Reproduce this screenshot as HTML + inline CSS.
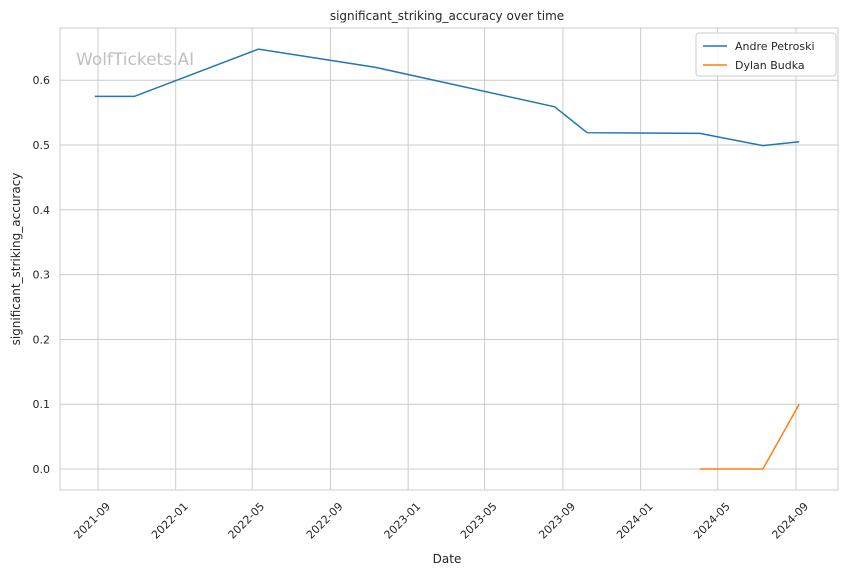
<!DOCTYPE html>
<html><head><meta charset="utf-8"><style>
body{margin:0;background:#fff;font-family:"Liberation Sans","DejaVu Sans",sans-serif;}
svg text{font-family:"DejaVu Sans","Liberation Sans",sans-serif;fill:#262626;}
</style></head><body>
<svg id="chart" width="844" height="575" xmlns="http://www.w3.org/2000/svg">
<rect width="844" height="575" fill="#fff"/>
<text x="447" y="20" font-size="12" text-anchor="middle">significant_striking_accuracy over time</text>
<g id="grid"></g>
<rect x="60" y="28" width="778" height="462" fill="none" stroke="#ccc"/>
<text x="76" y="65" font-size="17" style="fill:#c0c0c0">WolfTickets.AI</text>
<g id="series"></g>
<text x="447" y="563" font-size="12" text-anchor="middle">Date</text>
<text transform="translate(20,259) rotate(-90)" font-size="12" text-anchor="middle">significant_striking_accuracy</text>
<g>
<rect x="696" y="33" width="140" height="43" fill="#fff" fill-opacity="0.85" stroke="#ccc" rx="3"/>
<line x1="703" y1="46" x2="727" y2="46" stroke="#1f77b4" stroke-width="1.5"/>
<text x="735" y="50" font-size="11">Andre Petroski</text>
<line x1="703" y1="65" x2="727" y2="65" stroke="#ff7f0e" stroke-width="1.5"/>
<text x="735" y="69" font-size="11">Dylan Budka</text>
</g>
</svg>
<script>
const andreDates=["2021-08-27","2021-10-28","2022-05-11","2022-11-10","2023-08-19","2023-10-09","2024-04-03","2024-07-11","2024-09-06"];
const andreValues=[0.575,0.575,0.648,0.620,0.559,0.519,0.518,0.499,0.505];
const dylanDates=["2024-04-03","2024-07-11","2024-09-06"];
const dylanValues=[0,0,0.1];
const xTicks=["2021-09","2022-01","2022-05","2022-09","2023-01","2023-05","2023-09","2024-01","2024-05","2024-09"];
const yTicks=[0,0.1,0.2,0.3,0.4,0.5,0.6];

const ns="http://www.w3.org/2000/svg";
const t0=Date.parse("2021-09-01"),t1=Date.parse("2024-09-01");
function xs(d){return 98+(Date.parse(d)-t0)/(t1-t0)*698;}
function ys(v){return 469-v*648;}
const grid=document.getElementById("grid"),svg=document.getElementById("chart"),series=document.getElementById("series");
function mk(tag,attrs,parent){const e=document.createElementNS(ns,tag);for(const k in attrs)e.setAttribute(k,attrs[k]);parent.appendChild(e);return e;}
yTicks.forEach(v=>{
  const y=ys(v);
  const l=mk("line",{x1:60,x2:838,y1:y,y2:y,stroke:"#ccc"},grid);
  
  
  const t=mk("text",{x:50,y:y+4,"font-size":11,"text-anchor":"end"},svg);
  t.textContent=v.toFixed(1);
  
  
});
xTicks.forEach(m=>{
  const x=xs(m+"-01");
  const ax=x+13, ay=507;
  const l=mk("line",{x1:x,x2:x,y1:28,y2:490,stroke:"#ccc"},grid);
  
  
  const t=mk("text",{x:ax,y:ay,"font-size":11,"text-anchor":"end",transform:`rotate(-45 ${ax} ${ay})`},svg);
  t.textContent=m;
  
  
});
function line(dates,vals,color,name){
  const p=mk("polyline",{points:dates.map((d,i)=>xs(d)+","+ys(vals[i])).join(" "),fill:"none",stroke:color,"stroke-width":1.5},series);
  
  
}
line(andreDates,andreValues,"#1f77b4","andre-petroski-line");
line(dylanDates,dylanValues,"#ff7f0e","dylan-budka-line");
</script>
</body></html>
